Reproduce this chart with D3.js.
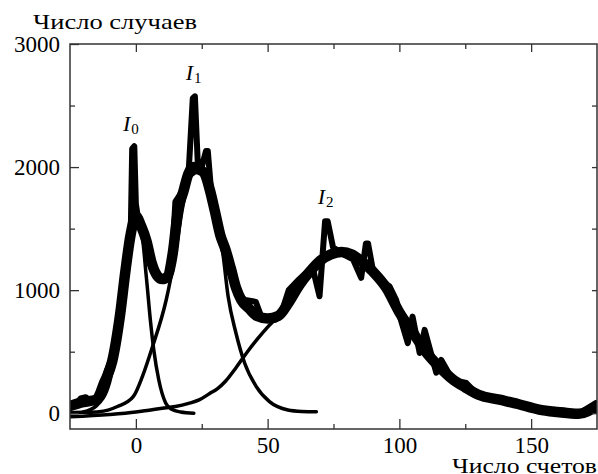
<!DOCTYPE html>
<html>
<head>
<meta charset="utf-8">
<script src="https://cdn.jsdelivr.net/npm/d3@7"></script>
<style>
  body { margin: 0; background: #fff; }
  svg { display: block; }
  text { font-family: "Liberation Serif", "Times New Roman", serif; fill: #000; }
</style>
</head>
<body>
<div id="chart"></div>
<script>
// measured spectrum, spiky run: [counts, cases]
var measured = [
  [-25, 70], [-23, 60], [-21, 120], [-19, 130], [-17, 90], [-15, 100], [-13, 180],
  [-11, 350], [-9, 450], [-7.5, 520], [-6, 750], [-4.5, 1000], [-3.5, 1150], [-2, 1400],
  [-1.4, 2150], [-0.6, 2170], [0, 1700], [1, 1560], [3, 1480], [5, 1350], [6.5, 1180], [8, 1100],
  [11, 1090], [13.5, 1160], [15, 1720], [17.5, 1800], [20, 1950], [21.6, 2560], [22.4, 2575],
  [23.5, 2030], [25, 2000], [26.6, 2130], [27.3, 2130], [28.5, 1820], [31, 1570], [33.5, 1360],
  [36.5, 1150], [39.5, 950], [41.5, 920], [45.5, 905], [47.7, 780], [50, 760],
  [53, 760], [55, 800], [58, 1000], [62, 1090], [67, 1190], [69.7, 950], [71.8, 1560], [72.8, 1560],
  [74.8, 1350], [78, 1300], [82.4, 1250], [85.5, 1100], [87.3, 1380], [88.1, 1380], [89.9, 1170],
  [93, 1080], [96.3, 1030], [98.8, 920], [100, 800], [103.2, 570], [105, 785],
  [107.7, 490], [109.6, 677], [114, 330], [115.9, 433], [120.2, 270], [125.4, 246],
  [130.4, 135], [138, 124], [145.6, 84], [153.2, 27], [160.8, 27], [168.4, 2], [174.7, 84]
];

// measured spectrum, smooth run (the broad band under the spikes)
var measuredBand = [
  [-25, 60], [-20, 90], [-15, 110], [-12, 250], [-9, 420], [-6, 800], [-4, 1150],
  [-2, 1450], [0, 1600], [2, 1520], [4, 1400], [6, 1220], [8, 1120], [10, 1090],
  [12, 1110], [14, 1300], [16, 1650], [18, 1800], [20, 1950], [22, 2000], [24, 1980],
  [26, 1950], [28, 1820], [30, 1640], [32, 1450], [34, 1330], [36, 1180], [38, 1020],
  [40, 920], [43, 850], [46, 790], [50, 770], [54, 790], [58, 900], [62, 1040],
  [66, 1150], [70, 1240], [74, 1290], [78, 1310], [82, 1290], [86, 1230], [90, 1150],
  [95, 1020], [100, 820], [105, 660], [110, 500], [115, 380], [120, 280], [125, 210],
  [130, 150], [138, 110], [145, 75], [153, 30], [160, 10], [168, -5], [175, 60]
];

// fitted components (thin lines)
var fitI0 = [
  [-20, 10], [-15, 60], [-10, 250], [-6, 700], [-3, 1200], [0, 1520], [2, 1480],
  [4, 1100], [5.6, 735], [6.8, 514], [8.7, 270], [11.3, 84], [13.4, 35], [17, 10], [22, 0]
];
var fitI1 = [
  [-25, 5], [-20, 8], [-14, 13], [-7, 55], [-1, 135], [2.5, 300], [6.3, 540],
  [11.5, 920], [15, 1300], [18, 1700], [21, 1930], [24, 1960], [27, 1850], [30, 1620],
  [33, 1300], [35, 950], [38, 650], [41.3, 406], [45.7, 216], [50.7, 94], [57.7, 27],
  [63, 15], [68.5, 12]
];
var fitI2 = [
  [-25, -28], [-10, -10], [0, 10], [5, 25], [10, 40], [15, 55], [20, 80], [24, 108],
  [28, 160], [31, 200], [34, 260], [38, 370], [42, 490], [46, 600], [50, 700],
  [54, 790], [58, 900], [62, 1040], [66, 1150], [70, 1240], [74, 1290], [78, 1310],
  [82, 1290], [86, 1230], [90, 1150], [95, 1020], [100, 860], [105, 700], [110, 540],
  [115, 400], [120, 290], [125, 200], [130, 140], [140, 80], [150, 40], [160, 20], [175, 10]
];

// peak labels: subscript, anchor in data units
var peakLabels = [
  { sub: "0", x: -4.9, y: 2290 },
  { sub: "1", x: 18.9, y: 2704 },
  { sub: "2", x: 69, y: 1702 }
];

var xMajor = [0, 50, 100, 150];
var xMinor = [25, 75, 125];
var yMajor = [0, 1000, 2000, 3000];
var yMinor = [500, 1500, 2500];
var yRight = [0, 500, 1000, 1500, 2000, 2500];

var width = 598, height = 474;
var mLeft = 70, mRight = 597, mTop = 44, mBottom = 429;

var svg = d3.select('#chart').append('svg').attr('width', width).attr('height', height);

var x = d3.scaleLinear().domain([-25, 175]).range([mLeft, mRight]);
var y = d3.scaleLinear().domain([-128, 3000]).range([mBottom, mTop]);

svg.append('clipPath').attr('id', 'plot')
  .append('rect').attr('x', mLeft).attr('y', mTop).attr('width', mRight - mLeft).attr('height', mBottom - mTop);

var line = d3.line().x(function(d) { return x(d[0]); }).y(function(d) { return y(d[1]); });
var smooth = d3.line().curve(d3.curveMonotoneX)
  .x(function(d) { return x(d[0]); }).y(function(d) { return y(d[1]); });

var plot = svg.append('g').attr('clip-path', 'url(#plot)');

function drawLine(data, gen, w) {
  plot.append('path').datum(data)
    .attr('d', gen)
    .attr('fill', 'none').attr('stroke', '#000')
    .attr('stroke-width', w).attr('stroke-linecap', 'round').attr('stroke-linejoin', 'round');
}

drawLine(fitI0, smooth, 3.5);
drawLine(fitI1, smooth, 3.5);
drawLine(fitI2, smooth, 3.5);
drawLine(measuredBand, smooth, 10.5);
drawLine(measured, line, 6);

// axes, ticks pointing inward
function styleAxis(g) {
  g.select('.domain').remove();
  g.selectAll('.tick line').attr('stroke', '#333').attr('stroke-width', 1.3);
  g.selectAll('.tick text').attr('font-family', '"Liberation Serif", serif').attr('font-size', 23).attr('fill', '#000');
}

svg.append('g').attr('transform', 'translate(0,' + mBottom + ')')
  .call(d3.axisBottom(x).tickValues(xMajor).tickSizeInner(-10).tickSizeOuter(0).tickPadding(8))
  .call(styleAxis);
svg.append('g').attr('transform', 'translate(0,' + mBottom + ')')
  .call(d3.axisBottom(x).tickValues(xMinor).tickSizeInner(-5).tickSizeOuter(0).tickFormat(''))
  .call(styleAxis);
svg.append('g').attr('transform', 'translate(0,' + mTop + ')')
  .call(d3.axisTop(x).tickValues(xMajor).tickSizeInner(-8).tickSizeOuter(0).tickFormat(''))
  .call(styleAxis);
svg.append('g').attr('transform', 'translate(0,' + mTop + ')')
  .call(d3.axisTop(x).tickValues(xMinor).tickSizeInner(-5).tickSizeOuter(0).tickFormat(''))
  .call(styleAxis);

svg.append('g').attr('transform', 'translate(' + mLeft + ',0)')
  .call(d3.axisLeft(y).tickValues(yMajor).tickSizeInner(-9).tickSizeOuter(0).tickPadding(10).tickFormat(d3.format('d')))
  .call(styleAxis);
svg.append('g').attr('transform', 'translate(' + mLeft + ',0)')
  .call(d3.axisLeft(y).tickValues(yMinor).tickSizeInner(-5).tickSizeOuter(0).tickFormat(''))
  .call(styleAxis);
svg.append('g').attr('transform', 'translate(' + mRight + ',0)')
  .call(d3.axisRight(y).tickValues(yRight).tickSizeInner(-5).tickSizeOuter(0).tickFormat(''))
  .call(styleAxis);

svg.append('rect')
  .attr('x', mLeft).attr('y', mTop).attr('width', mRight - mLeft).attr('height', mBottom - mTop)
  .attr('fill', 'none').attr('stroke', '#333').attr('stroke-width', 1.5);

// axis titles
svg.append('text').attr('x', 33).attr('y', 29).attr('font-size', 22)
  .attr('textLength', 164).attr('lengthAdjust', 'spacingAndGlyphs')
  .text('Число случаев');
svg.append('text').attr('x', 452).attr('y', 473).attr('font-size', 21)
  .attr('textLength', 145).attr('lengthAdjust', 'spacingAndGlyphs')
  .text('Число счетов');

// peak labels
peakLabels.forEach(function(p) {
  var t = svg.append('text').attr('x', x(p.x)).attr('y', y(p.y)).attr('font-size', 22);
  t.append('tspan').attr('font-style', 'italic').text('I');
  t.append('tspan').attr('font-size', 15).attr('dy', 3).attr('dx', 1).text(p.sub);
});
</script>
</body>
</html>
